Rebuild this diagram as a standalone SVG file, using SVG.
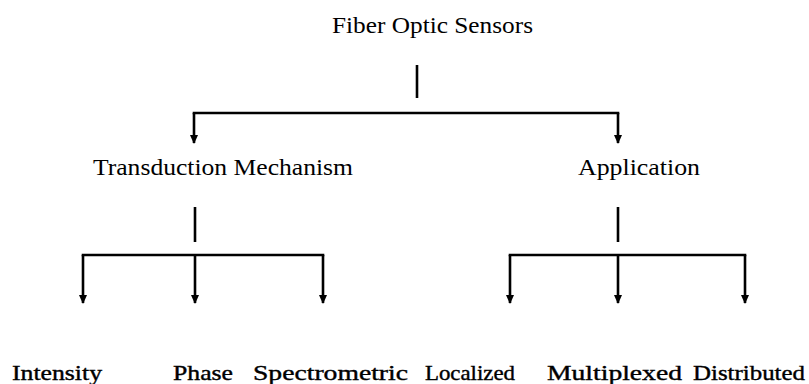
<svg xmlns="http://www.w3.org/2000/svg" width="809" height="384" viewBox="0 0 809 384">
<style>
.t{font-family:"Liberation Serif","Times New Roman",serif;font-size:23px;fill:#000}
.b{font-size:22px;stroke:#000;stroke-width:0.4}
.c{stroke:#000;stroke-width:2.6;fill:none}
</style>
<defs>
<marker id="ah" markerWidth="9" markerHeight="8" refX="8" refY="4" orient="auto" markerUnits="userSpaceOnUse" viewBox="0 0 9 8">
<path d="M0,0 L9,4 L0,8 Z" fill="#000"/>
</marker>
</defs>
<rect width="809" height="384" fill="#fff"/>
<g id="connectors">
<line class="c" x1="417" y1="65" x2="417" y2="98"/>
<polyline class="c" points="192.7,113 619.3,113"/>
<line class="c" x1="194" y1="113" x2="194" y2="143" marker-end="url(#ah)"/>
<line class="c" x1="618" y1="113" x2="618" y2="143" marker-end="url(#ah)"/>
<line class="c" x1="195" y1="207" x2="195" y2="242"/>
<line class="c" x1="618" y1="207" x2="618" y2="242"/>
<line class="c" x1="81.7" y1="255" x2="324.3" y2="255"/>
<line class="c" x1="508.7" y1="255" x2="746.3" y2="255"/>
<line class="c" x1="83" y1="255" x2="83" y2="303" marker-end="url(#ah)"/>
<line class="c" x1="195" y1="255" x2="195" y2="303" marker-end="url(#ah)"/>
<line class="c" x1="323" y1="255" x2="323" y2="303" marker-end="url(#ah)"/>
<line class="c" x1="510" y1="255" x2="510" y2="303" marker-end="url(#ah)"/>
<line class="c" x1="618" y1="255" x2="618" y2="303" marker-end="url(#ah)"/>
<line class="c" x1="745" y1="255" x2="745" y2="303" marker-end="url(#ah)"/>
</g>
<g id="root"><text class="t" x="332" y="33" textLength="201" lengthAdjust="spacingAndGlyphs">Fiber Optic Sensors</text></g>
<g id="transduction"><text class="t" x="93" y="175" textLength="260" lengthAdjust="spacingAndGlyphs">Transduction Mechanism</text></g>
<g id="application"><text class="t" x="578" y="175" textLength="122" lengthAdjust="spacingAndGlyphs">Application</text></g>
<g id="intensity"><text class="t b" x="12" y="380" textLength="90" lengthAdjust="spacingAndGlyphs">Intensity</text></g>
<g id="phase"><text class="t b" x="173" y="380" textLength="60" lengthAdjust="spacingAndGlyphs">Phase</text></g>
<g id="spectrometric"><text class="t b" x="253" y="380" textLength="155" lengthAdjust="spacingAndGlyphs">Spectrometric</text></g>
<g id="localized"><text class="t b" x="425" y="380" textLength="90" lengthAdjust="spacingAndGlyphs">Localized</text></g>
<g id="multiplexed"><text class="t b" x="547" y="380" textLength="135" lengthAdjust="spacingAndGlyphs">Multiplexed</text></g>
<g id="distributed"><text class="t b" x="693" y="380" textLength="112" lengthAdjust="spacingAndGlyphs">Distributed</text></g>
</svg>
